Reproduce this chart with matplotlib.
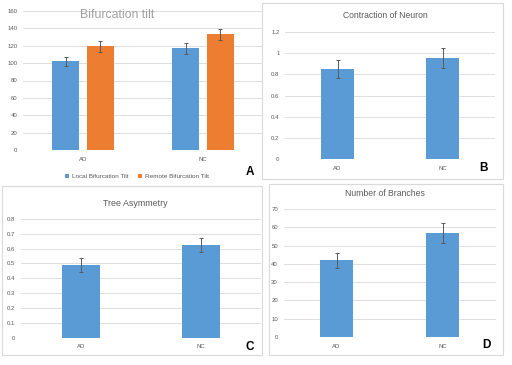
import numpy as np
import matplotlib
matplotlib.use('Agg')
from matplotlib import pyplot as plt
from matplotlib.patches import Rectangle

# data
groups = ['AD', 'NC']
local_tilt = [102, 117]
local_tilt_err = [5, 6]
remote_tilt = [119.5, 133]
remote_tilt_err = [6.5, 6.5]
contraction = [0.85, 0.955]
contraction_err = [0.085, 0.095]
asymmetry = [0.49, 0.625]
asymmetry_err = [0.05, 0.05]
branches = [42, 57]
branches_err = [4, 5.6]

blue = '#5b9bd5'
orange = '#ed7d31'
grid_col = '#d9d9d9'
text_col = '#595959'
err_col = '#595959'

W, H = 512, 365
plt.rcParams['font.family'] = ['Liberation Sans', 'DejaVu Sans']
fig = plt.figure(figsize=(W / 100, H / 100), dpi=100)
fig.patch.set_facecolor('white')


def px_axes(left, right, top, bottom):
    # plot area in pixel coordinates of the picture
    return fig.add_axes([left / W, 1 - bottom / H, (right - left) / W, (bottom - top) / H])


def px_text(px, py, s, **kw):
    return fig.text(px / W, 1 - py / H, s, ha='center', va='center', **kw)


def panel_border(x0, y0, x1, y1):
    fig.patches.append(Rectangle((x0 / W, 1 - y1 / H), (x1 - x0) / W, (y1 - y0) / H,
                                 transform=fig.transFigure, fill=False,
                                 edgecolor=grid_col, linewidth=0.8, zorder=0))


def style(ax, ymax, ystep, fmt):
    ax.set_xlim(-0.5, 1.5)
    ax.set_ylim(0, ymax)
    yt = np.arange(0, ymax + ystep / 2, ystep)
    ax.set_yticks(yt)
    ax.set_yticklabels([fmt(v) for v in yt])
    ax.set_xticks(range(len(groups)))
    ax.set_xticklabels(groups)
    for s in ax.spines.values():
        s.set_visible(False)
    ax.tick_params(axis='both', length=0, labelsize=4.3, colors=text_col)
    ax.tick_params(axis='x', pad=5)
    ax.tick_params(axis='y', pad=4)
    ax.grid(axis='y', color=grid_col, linewidth=0.6)
    ax.set_axisbelow(True)
    ax.patch.set_alpha(0)


def fmt_num(v):
    s = ('%.1f' % v).rstrip('0').rstrip('.')
    return s


panel_border(2, 186, 262, 355)
panel_border(262, 3, 503, 179)
panel_border(269, 184, 503, 355)

ekw = dict(ecolor=err_col, elinewidth=0.7, capsize=1.5, capthick=0.7)

# A: bifurcation tilt
x = np.arange(len(groups))
axA = px_axes(23, 263, 11, 150)
axA.bar(x - 0.145, local_tilt, 0.225, yerr=local_tilt_err, color=blue,
        label='Local Bifurcation Tilt', error_kw=ekw)
axA.bar(x + 0.145, remote_tilt, 0.225, yerr=remote_tilt_err, color=orange,
        label='Remote Bifurcation Tilt', error_kw=ekw)
style(axA, 160, 20, fmt_num)
px_text(117, 15, 'Bifurcation tilt', fontsize=8.8, color='#a0a0a0')
leg = axA.legend(loc='center', bbox_to_anchor=(0.475, -0.19), ncol=2, frameon=False,
                 fontsize=4.6, handlelength=0.6, handleheight=0.6, columnspacing=1.6,
                 handletextpad=0.4)
for t in leg.get_texts():
    t.set_color(text_col)

# B: contraction of neuron
axB = px_axes(285, 495, 32, 159)
axB.bar(x, contraction, 0.31, yerr=contraction_err, color=blue, error_kw=ekw)
style(axB, 1.2, 0.2, fmt_num)
px_text(385, 16, 'Contraction of Neuron', fontsize=6.2, color=text_col)

# C: tree asymmetry
axC = px_axes(21, 261, 219, 337.5)
axC.bar(x, asymmetry, 0.31, yerr=asymmetry_err, color=blue, error_kw=ekw)
style(axC, 0.8, 0.1, fmt_num)
px_text(135, 204, 'Tree Asymmetry', fontsize=6.4, color=text_col)

# D: number of branches
axD = px_axes(283.5, 495.5, 209, 337)
axD.bar(x, branches, 0.31, yerr=branches_err, color=blue, error_kw=ekw)
style(axD, 70, 10, fmt_num)
px_text(385, 194, 'Number of Branches', fontsize=6.2, color=text_col)

# panel letters
for lab, px, py in [('A', 250, 172), ('B', 484, 168), ('C', 250, 347), ('D', 486, 345)]:
    px_text(px, py, lab, fontsize=8.5, fontweight='bold', color='black')

fig.savefig('out.png', dpi=100, facecolor='white')
